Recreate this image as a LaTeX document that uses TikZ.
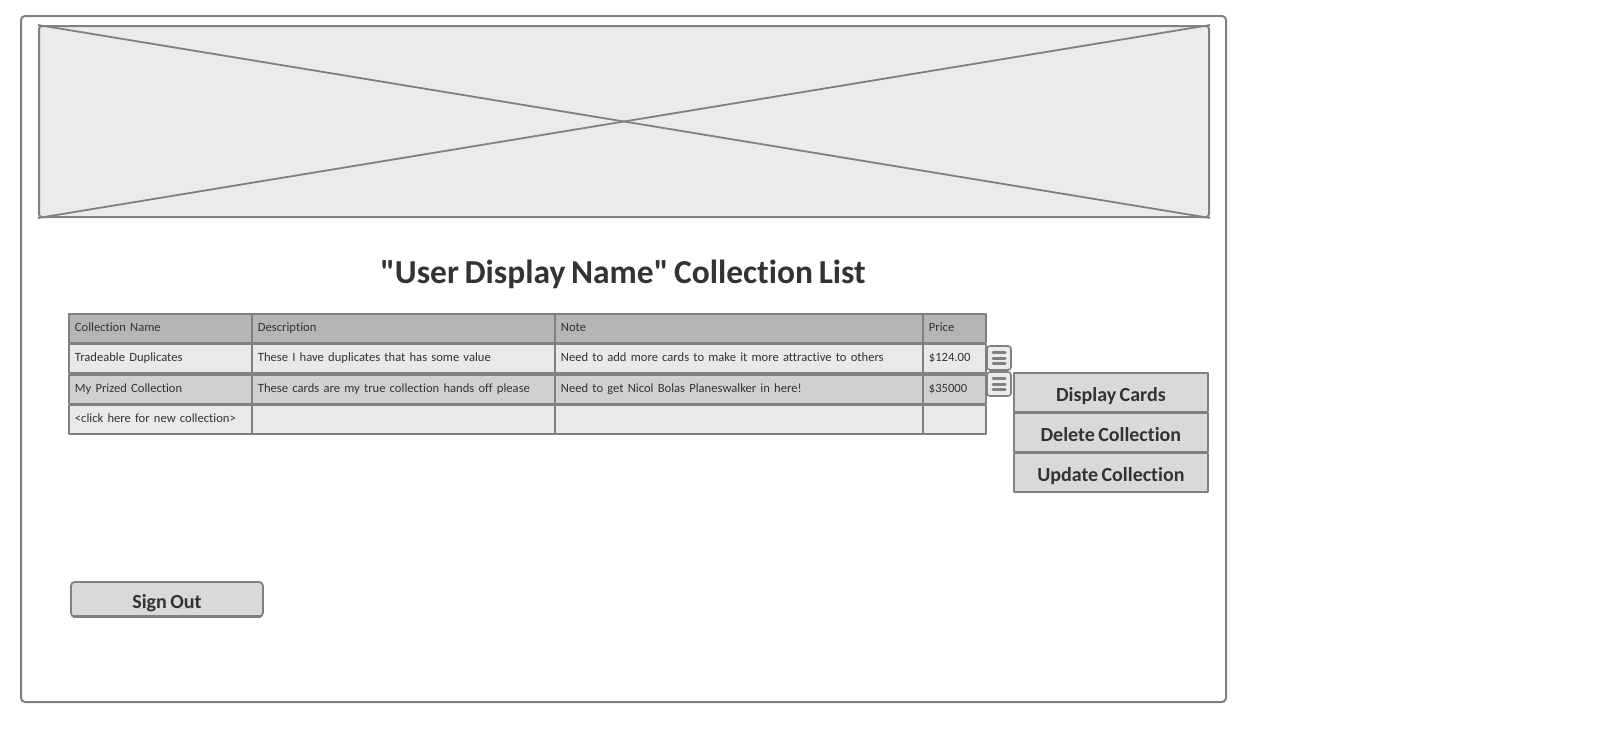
\documentclass[tikz,border=0pt]{standalone}
\usepackage{fontspec}
\setmainfont{Carlito}[Ligatures={TeXOff,NoCommon,NoContextual}, Contextuals=NoAlternate, WordSpace=0.75]
\usepackage{xcolor}
\usetikzlibrary{positioning}
\definecolor{linegray}{RGB}{128,128,128}
\definecolor{txtgray}{RGB}{51,51,51}
\definecolor{imgfill}{RGB}{235,235,235}
\definecolor{hdrfill}{RGB}{181,181,181}
\definecolor{rowlight}{RGB}{233,233,233}
\definecolor{rowdark}{RGB}{208,208,208}
\definecolor{btnfill}{RGB}{217,217,217}

\begin{document}
\begin{tikzpicture}[x=1pt, y=-1pt, line join=round,
  frame/.style = {draw=linegray, line width=2pt, rounded corners=4pt},
  cell/.style = {draw=linegray, line width=1.8pt, anchor=north west, text width=#1, inner xsep=6pt, inner ysep=0pt, minimum height=28.75pt, text height=9pt, text depth=3pt, align=left, text=txtgray, font=\fontsize{12.6}{15}\selectfont},
  menuitem/.style = {draw=linegray, line width=1.8pt, fill=btnfill, minimum width=194pt, minimum height=38.5pt, inner sep=0pt, text height=18pt, text depth=0pt, text=txtgray, font=\bfseries\fontsize{20}{24}\selectfont},
  menuicon/.style = {draw=linegray, line width=1.6pt, rounded corners=3pt, fill=imgfill, minimum width=24pt, minimum height=24pt, inner sep=0pt},
  bar/.style = {draw=linegray, line width=3pt, line cap=round}]

  \useasboundingbox (0,0) rectangle (1606,739);

  % page and banner
  \node[frame, fill=white, anchor=north west, minimum width=1205pt, minimum height=686pt, inner sep=0pt] (page) at (20,15) {};
  \node[frame, fill=imgfill, anchor=north west, minimum width=1170pt, minimum height=191pt, inner sep=0pt, rounded corners=3pt] (banner) at (38,25) {};
  \draw[draw=linegray, line width=1.8pt] (banner.north west) -- (banner.south east);
  \draw[draw=linegray, line width=1.8pt] (banner.south west) -- (banner.north east);

  \node[text=txtgray, font=\bfseries\fontsize{33.5}{40}\selectfont] (title) at (623,274) {"User Display Name" Collection List};

  % table
  \node[cell=171pt, fill=hdrfill] (h1) at (68,313) {Collection Name};
  \node[cell=291pt, fill=hdrfill] (h2) at (251,313) {Description};
  \node[cell=356pt, fill=hdrfill] (h3) at (554,313) {Note};
  \node[cell=51pt, fill=hdrfill] (h4) at (922,313) {Price};

  \node[cell=171pt, fill=rowlight, below=0pt of h1.south west, anchor=north west] (a1) {Tradeable Duplicates};
  \node[cell=291pt, fill=rowlight, below=0pt of h2.south west, anchor=north west] (a2) {These I have duplicates that has some value};
  \node[cell=356pt, fill=rowlight, below=0pt of h3.south west, anchor=north west] (a3) {Need to add more cards to make it more attractive to others};
  \node[cell=51pt, fill=rowlight, below=0pt of h4.south west, anchor=north west] (a4) {\$124.00};

  \node[cell=171pt, fill=rowdark, below=0pt of a1.south west, anchor=north west] (b1) {My Prized Collection};
  \node[cell=291pt, fill=rowdark, below=0pt of a2.south west, anchor=north west] (b2) {These cards are my true collection hands off please};
  \node[cell=356pt, fill=rowdark, below=0pt of a3.south west, anchor=north west] (b3) {Need to get Nicol Bolas Planeswalker in here!};
  \node[cell=51pt, fill=rowdark, below=0pt of a4.south west, anchor=north west] (b4) {\$35000};

  \node[cell=171pt, fill=rowlight, below=0pt of b1.south west, anchor=north west] (c1) {<click here for new collection>};
  \node[cell=291pt, fill=rowlight, below=0pt of b2.south west, anchor=north west] (c2) {};
  \node[cell=356pt, fill=rowlight, below=0pt of b3.south west, anchor=north west] (c3) {};
  \node[cell=51pt, fill=rowlight, below=0pt of b4.south west, anchor=north west] (c4) {};

  % row menus
  \node[menuicon] (m1) at (999,358) {};
  \node[menuicon] (m2) at (999,384) {};
  \draw[bar] ([xshift=-6pt,yshift=5.5pt]m1.center) -- ++(12,0);
  \draw[bar] ([xshift=-6pt]m1.center) -- ++(12,0);
  \draw[bar] ([xshift=-6pt,yshift=-5.5pt]m1.center) -- ++(12,0);
  \draw[bar] ([xshift=-6pt,yshift=5.5pt]m2.center) -- ++(12,0);
  \draw[bar] ([xshift=-6pt]m2.center) -- ++(12,0);
  \draw[bar] ([xshift=-6pt,yshift=-5.5pt]m2.center) -- ++(12,0);

  \node[menuitem, anchor=north west] (show) at (1013,372) {Display Cards};
  \node[menuitem, below=0pt of show] (del) {Delete Collection};
  \node[menuitem, below=0pt of del] (upd) {Update Collection};

  % sign out
  \node[frame, fill=btnfill, rounded corners=4pt, line width=1.8pt, anchor=north west, minimum width=192pt, minimum height=35pt, inner sep=0pt, text height=19pt, text depth=0pt, text=txtgray, font=\bfseries\fontsize{20}{24}\selectfont] (signout) at (70,581) {Sign Out};
  \draw[draw=linegray, line width=3pt] ([xshift=3pt,yshift=1pt]signout.south west) -- ([xshift=-3pt,yshift=1pt]signout.south east);

\end{tikzpicture}
\end{document}
